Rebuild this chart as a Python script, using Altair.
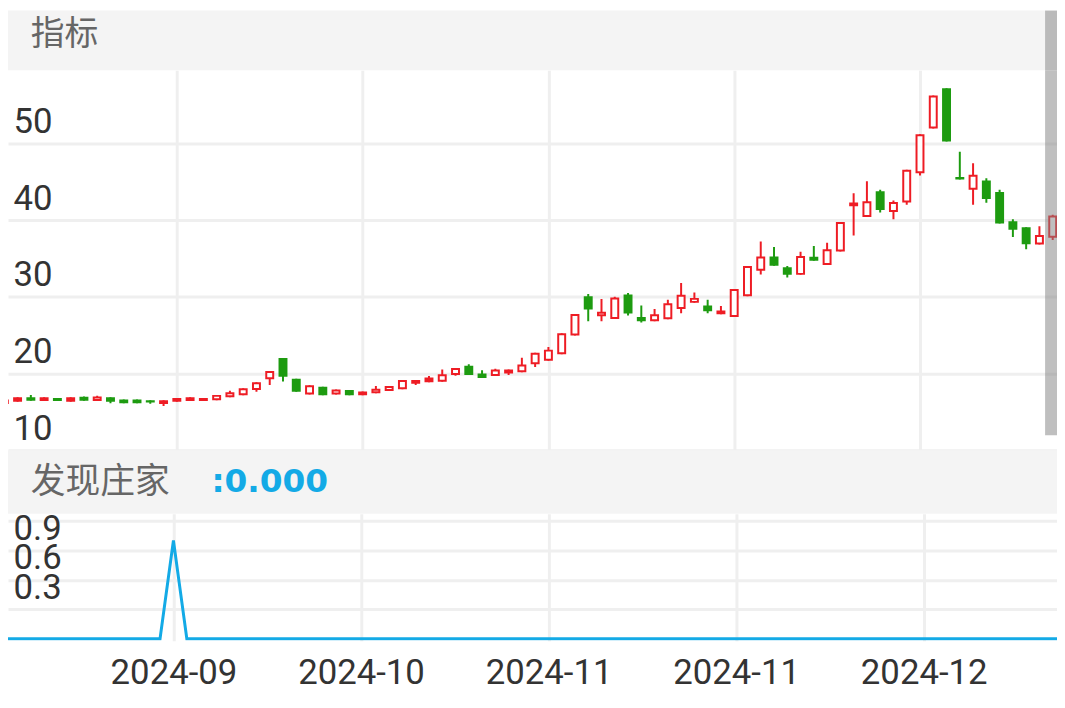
import altair as alt
import pandas as pd

# ---------------- data ----------------
idx = list(range(80))
open_ = [16.0, 16.3, 16.9, 16.4, 16.8, 16.3, 16.95, 16.4, 16.9, 16.6,
         16.6, 16.5, 16.0, 16.3, 16.4, 16.4, 16.5, 16.9, 17.15, 17.85,
         19.25, 22.0, 19.3, 17.25, 18.25, 17.25, 17.85, 17.15, 17.4, 17.7,
         17.95, 18.65, 18.85, 18.9, 19.8, 21.0, 20.0, 19.65, 20.0, 20.15,
         21.2, 21.65, 22.5, 24.95, 30.05, 27.45, 27.1, 30.3, 27.35, 26.8,
         27.05, 28.4, 29.2, 28.85, 27.7, 27.35, 30.05, 33.4, 35.25, 33.85,
         32.85, 35.2, 34.15, 35.9, 41.8, 40.4, 43.75, 41.05, 42.3, 46.1,
         51.95, 57.2, 45.6, 43.95, 45.15, 43.65, 39.85, 39.05, 36.8, 37.7]
high = [16.63, 16.9, 17.2, 16.9, 16.8, 16.9, 17.0, 17.1, 16.9, 16.6,
        16.6, 16.5, 16.5, 16.8, 16.9, 16.8, 17.2, 17.75, 18.05, 18.85,
        20.3, 22.0, 19.3, 18.45, 18.25, 17.9, 17.85, 17.65, 18.35, 18.35,
        19.15, 19.15, 19.65, 20.5, 20.7, 21.2, 20.4, 20.6, 20.5, 22.05,
        22.7, 23.45, 25.25, 27.75, 30.35, 29.7, 30.0, 30.5, 28.85, 28.4,
        29.6, 31.8, 30.55, 29.6, 28.8, 31.0, 34.0, 37.2, 36.5, 34.0,
        35.85, 36.6, 37.05, 39.75, 43.5, 45.05, 43.95, 42.55, 46.55, 51.2,
        56.25, 57.2, 48.9, 47.4, 45.45, 43.95, 40.1, 39.05, 39.2, 40.7]
low = [16.0, 16.3, 16.45, 16.4, 16.4, 16.3, 16.45, 16.4, 16.1, 16.1,
       16.1, 16.05, 15.75, 16.3, 16.4, 16.4, 16.5, 16.9, 17.15, 17.6,
       18.5, 18.95, 17.6, 17.25, 17.15, 17.25, 17.15, 17.15, 17.4, 17.7,
       17.95, 18.5, 18.85, 18.9, 19.7, 19.8, 19.4, 19.65, 19.8, 20.15,
       20.85, 21.65, 22.5, 24.95, 26.8, 26.8, 27.1, 27.55, 26.65, 26.8,
       27.05, 27.85, 29.2, 27.85, 27.7, 27.35, 30.05, 32.9, 34.05, 32.5,
       32.85, 34.7, 34.15, 35.9, 38.0, 40.4, 41.0, 40.1, 42.0, 45.8,
       51.95, 50.25, 45.3, 42.0, 42.25, 39.55, 37.8, 36.2, 36.8, 37.4]
close = [16.6, 16.9, 16.45, 16.9, 16.4, 16.9, 16.45, 17.0, 16.3, 16.1,
         16.1, 16.2, 16.5, 16.8, 16.9, 16.8, 17.2, 17.55, 18.05, 18.85,
         20.3, 19.55, 17.6, 18.45, 17.15, 17.9, 17.15, 17.65, 18.0, 18.35,
         19.15, 19.15, 19.45, 19.9, 20.7, 19.8, 19.4, 20.5, 20.5, 21.15,
         22.7, 23.1, 25.25, 27.75, 28.35, 28.05, 29.9, 27.8, 26.8, 27.7,
         29.15, 30.25, 29.85, 28.1, 28.2, 31.0, 34.0, 35.25, 34.05, 32.85,
         35.3, 34.7, 36.2, 39.75, 42.3, 42.45, 41.3, 42.35, 46.55, 51.2,
         56.25, 50.25, 45.3, 45.9, 42.75, 39.55, 38.75, 36.85, 38.05, 40.6]
zhuangjia = [0, 0, 0, 0, 0, 0, 0, 0, 0, 0,
             0, 0, 0, 1, 0, 0, 0, 0, 0, 0,
             0, 0, 0, 0, 0, 0, 0, 0, 0, 0,
             0, 0, 0, 0, 0, 0, 0, 0, 0, 0,
             0, 0, 0, 0, 0, 0, 0, 0, 0, 0,
             0, 0, 0, 0, 0, 0, 0, 0, 0, 0,
             0, 0, 0, 0, 0, 0, 0, 0, 0, 0,
             0, 0, 0, 0, 0, 0, 0, 0, 0, 0]
x_tick_pos = [13, 27, 41, 55, 69]
x_tick_labels = ["2024-09", "2024-10", "2024-11", "2024-11", "2024-12"]
price_ticks = [10, 20, 30, 40, 50]
ind_ticks = [0.3, 0.6, 0.9, 1.2]
header1_text = ["指标"]
header2_text = ["发现庄家"]
header2_value = [":0.000"]

# ---------------- style ----------------
W = 1057
RED = "#ee1c24"
GREEN = "#1d9b10"
BLUE = "#13aae6"
BAND = "#f4f4f4"
GRID = "#efefef"
NUM_FONT = "Roboto"
CJK_FONT = "Noto Sans CJK SC"

df = pd.DataFrame({"i": idx, "open": open_, "high": high, "low": low,
                   "close": close, "zj": zhuangjia})
df["dir"] = ["up" if c >= o else "down" for o, c in zip(open_, close)]

xscale = alt.Scale(domain=[0.652, 78.95], nice=False, zero=False)
color_scale = alt.Scale(domain=["up", "down"], range=[RED, GREEN])

scroll_df = pd.DataFrame({"s": [0]})

# ---------------- header 1 ----------------
h1_text = alt.Chart(pd.DataFrame({"t": header1_text})).mark_text(
    align="left", baseline="middle", font=CJK_FONT, fontSize=34, color="#666666"
).encode(text="t:N", x=alt.value(23), y=alt.value(24.5))
h1_scroll = alt.Chart(scroll_df).mark_rect(color="#808080", opacity=0.5).encode(
    x=alt.value(1045), x2=alt.value(1057), y=alt.value(0), y2=alt.value(60))
header1 = alt.layer(h1_text, h1_scroll).properties(
    width=W, height=60, view=alt.ViewBackground(fill=BAND, strokeWidth=0))

# ---------------- candlestick panel ----------------
yscale_top = alt.Scale(domain=[9.98, 59.55], nice=False, zero=False)
x_top = alt.X("i:Q", scale=xscale, axis=alt.Axis(
    values=x_tick_pos, grid=True, labels=False, ticks=False, domain=False,
    title=None, gridColor=GRID, gridWidth=3))
y_top_axis = alt.Axis(
    values=price_ticks, orient="left", labelAlign="left", labelPadding=-5,
    tickSize=0, ticks=False, domain=False, grid=True, gridColor=GRID, gridWidth=3,
    labelFont=NUM_FONT, labelFontSize=35, labelColor="#333333",
    labelBaseline="alphabetic", labelOffset=-11, labelOverlap=False,
    labelFlush=False, title=None)

base = alt.Chart(df)
wick = base.mark_rule(strokeWidth=2, clip=True).encode(
    x=x_top,
    y=alt.Y("low:Q", scale=yscale_top, axis=y_top_axis),
    y2="high:Q",
    color=alt.Color("dir:N", scale=color_scale, legend=None))
body = base.mark_bar(size=9, clip=True).encode(
    x=alt.X("i:Q", scale=xscale),
    y=alt.Y("open:Q", scale=yscale_top),
    y2="close:Q",
    color=alt.Color("dir:N", scale=color_scale, legend=None))
hollow = base.transform_filter("datum.close - datum.open > 0.6").mark_bar(
    size=5, clip=True, color="#ffffff", yOffset=2, y2Offset=-2).encode(
    x=alt.X("i:Q", scale=xscale),
    y=alt.Y("close:Q", scale=yscale_top),
    y2="open:Q")
top_scroll = alt.Chart(scroll_df).mark_rect(color="#808080", opacity=0.5).encode(
    x=alt.value(1045), x2=alt.value(1057), y=alt.value(0), y2=alt.value(368))
top = alt.layer(wick, body, hollow, top_scroll).properties(width=W, height=383)

# ---------------- header 2 ----------------
h2_text = alt.Chart(pd.DataFrame({"t": header2_text})).mark_text(
    align="left", baseline="middle", font=CJK_FONT, fontSize=35, color="#666666"
).encode(text="t:N", x=alt.value(23), y=alt.value(32))
h2_val = alt.Chart(pd.DataFrame({"t": header2_value})).mark_text(
    align="left", baseline="middle", font="DejaVu Sans", fontSize=33, fontWeight="bold",
    color=BLUE
).encode(text="t:N", x=alt.value(205), y=alt.value(32))
header2 = alt.layer(h2_text, h2_val).properties(
    width=W, height=64, view=alt.ViewBackground(fill=BAND, strokeWidth=0))

# ---------------- indicator panel ----------------
label_expr = ("[" + ",".join("'%s'" % s for s in x_tick_labels) + "][indexof(["
              + ",".join(str(v) for v in x_tick_pos) + "], datum.value)]")
yscale_bot = alt.Scale(domain=[-0.0202, 1.273], nice=False, zero=False)
line = alt.Chart(df).mark_line(color=BLUE, strokeWidth=3, clip=True).encode(
    x=alt.X("i:Q", scale=xscale, axis=alt.Axis(
        values=x_tick_pos, grid=True, gridColor=GRID, gridWidth=3,
        labelExpr=label_expr, labelFont=NUM_FONT, labelFontSize=35,
        labelColor="#333333", labelPadding=15, labelBaseline="top",
        ticks=False, tickSize=0, domain=False, title=None,
        labelFlush=False, labelOverlap=False)),
    y=alt.Y("zj:Q", scale=yscale_bot, axis=alt.Axis(
        values=ind_ticks, orient="left", labelAlign="left", labelPadding=-5,
        tickSize=0, ticks=False, domain=False, grid=True, gridColor=GRID,
        gridWidth=3, labelFont=NUM_FONT, labelFontSize=35, labelColor="#333333",
        labelBaseline="alphabetic", labelOffset=-11, labelOverlap=False,
        labelFlush=False, labelExpr="datum.value > 1 ? '' : format(datum.value, '.1f')",
        title=None)))
bottom = line.properties(width=W, height=128)

chart = alt.vconcat(header1, top, header2, bottom, spacing=0, bounds="flush").properties(
    padding=0).configure_view(strokeWidth=0)

chart.save("out.html", embed_options={"renderer": "svg", "actions": False})
